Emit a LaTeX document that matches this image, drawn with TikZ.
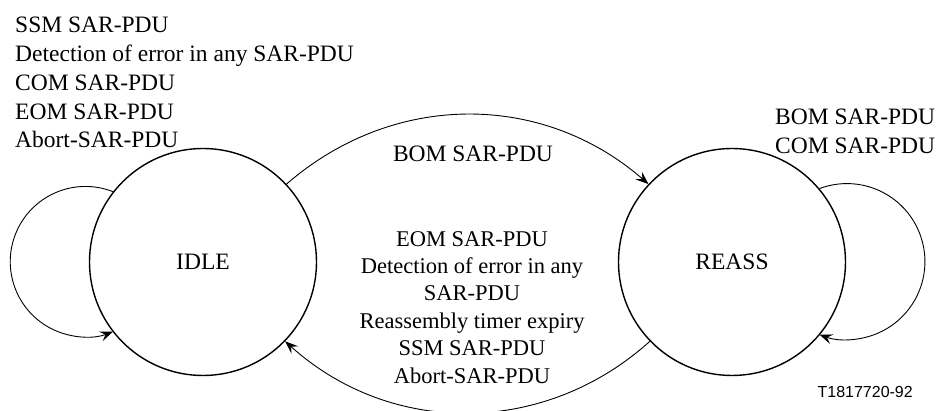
\documentclass[tikz,border=0pt]{standalone}
\usepackage{fontspec}
\setmainfont{Liberation Serif}
\newfontfamily\labelsans{Liberation Sans}
\usetikzlibrary{arrows.meta}
\tikzset{
  statenode/.style={circle,draw,line width=1.4pt,minimum size=227pt,inner sep=0pt,font=\fontsize{23.5}{28}\selectfont},
  conn/.style={line width=0.9pt,-{Stealth[length=13pt,width=10pt,inset=5pt]}},
  lbl/.style={inner sep=0pt,font=\fontsize{23.5}{28.75}\selectfont},
  midlbl/.style={inner sep=0pt,align=center,font=\fontsize{22.5}{27.4}\selectfont},
}
\begin{document}
\begin{tikzpicture}[x=1pt,y=1pt]
\useasboundingbox (0,0) rectangle (938,411);
\node[statenode] (idle) at (203,149) {IDLE};
\node[statenode] (reass) at (732,149) {REASS};

\node[lbl,align=left,anchor=north west] (idlelbl) at (15,394)
  {SSM SAR-PDU\\Detection of error in any SAR-PDU\\COM SAR-PDU\\EOM SAR-PDU\\Abort-SAR-PDU};
\node[lbl,align=left,anchor=north west] (reasslbl) at (775,302)
  {BOM SAR-PDU\\COM SAR-PDU};
\node[lbl,anchor=base] (bomlbl) at (473,249) {BOM SAR-PDU};
\node[midlbl,anchor=north] (backlbl) at (472,180)
  {EOM SAR-PDU\\Detection of error in any\\SAR-PDU\\Reassembly timer expiry\\SSM SAR-PDU\\Abort-SAR-PDU};
\node[inner sep=0pt,anchor=base east,font=\labelsans\fontsize{16}{19}\selectfont] (figid) at (913,13) {T1817720-92};

\draw[conn] (idle.142) arc[start angle=68.5,end angle=291.5,radius=75.2];
\draw[conn] (reass.40) arc[start angle=110.6,end angle=-110.6,radius=78];
\draw[conn] (idle.43) to[bend left=41] (reass.137);
\draw[conn] (reass.224) to[bend left=42] (idle.316);
\end{tikzpicture}
\end{document}
